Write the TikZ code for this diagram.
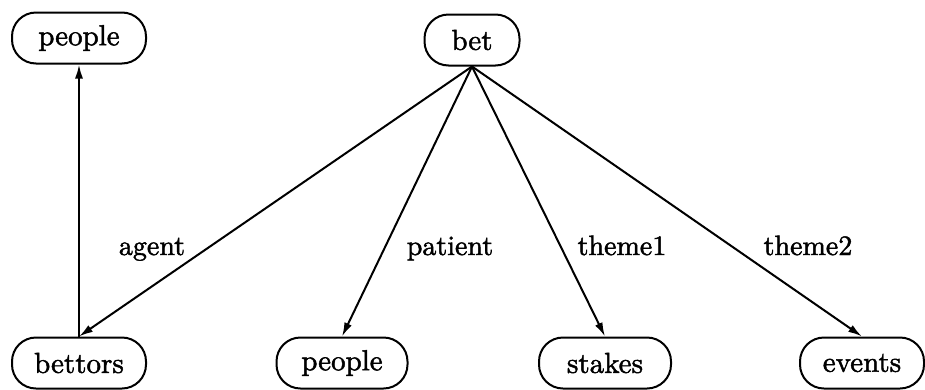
\documentclass[tikz,border=0pt]{standalone}
\usepackage{fontspec}
\usetikzlibrary{arrows.meta}
% slightly heavier roman face for the labels
\newfontface\heavyroman{lmroman10-regular}[Extension=.otf, FakeBold=1.6]
\begin{document}
\begin{tikzpicture}[x=1pt,y=-1pt,
  concept/.style={draw, line width=2pt, rounded corners=24pt,
    minimum height=51pt, inner sep=0pt, font=\heavyroman\fontsize{29}{33}\selectfont},
  rel/.style={line width=2pt, -{Latex[length=14pt,width=8pt]}},
  rlabel/.style={anchor=base, font=\heavyroman\fontsize{28}{32}\selectfont}]
  \useasboundingbox (0,0) rectangle (925,389);

  % concept boxes
  \node[concept, minimum width=134pt] (ptop) at (79,38) {people};
  \node[concept, minimum width=95pt]  (bet) at (472,40) {bet};
  \node[concept, minimum width=134pt] (bettors) at (79,363) {bettors};
  \node[concept, minimum width=131pt] (pbot) at (342,363) {people};
  \node[concept, minimum width=132pt] (stakes) at (605,363) {stakes};
  \node[concept, minimum width=124pt] (events) at (862,363) {events};

  % relations
  \draw[rel] (bettors.north) -- (ptop.south);
  \draw[rel] (bet.south) -- (bettors.north);
  \draw[rel] (bet.south) -- (pbot.north);
  \draw[rel] (bet.south) -- (stakes.north);
  \draw[rel] (bet.south) -- (events.north);

  % relation labels
  \node[rlabel] (lagent) at (152,255) {agent};
  \node[rlabel] (lpatient) at (450,255) {patient};
  \node[rlabel] (ltheme1) at (622,255) {theme1};
  \node[rlabel] (ltheme2) at (808,255) {theme2};
\end{tikzpicture}
\end{document}
